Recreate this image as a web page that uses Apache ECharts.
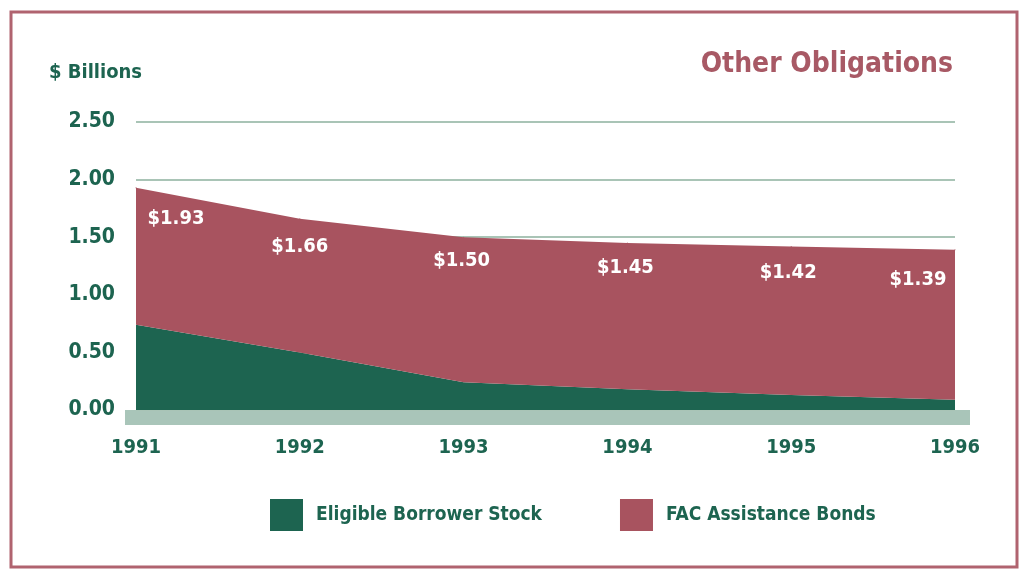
<!DOCTYPE html>
<html>
<head>
<meta charset="utf-8">
<script src="https://cdn.jsdelivr.net/npm/echarts@6/dist/echarts.min.js"></script>
<style>
  html, body { margin: 0; padding: 0; background: #fff; }
  #chart { width: 1020px; height: 573px; }
</style>
</head>
<body>
<div id="chart"></div>
<script>
// data
const years = ['1991', '1992', '1993', '1994', '1995', '1996']
const totals = [1.93, 1.66, 1.50, 1.45, 1.42, 1.39]
const borrowerStock = [0.74, 0.50, 0.24, 0.18, 0.13, 0.09]
const facBonds = totals.map((t, i) => +(t - borrowerStock[i]).toFixed(2))
const yTicks = [0, 0.5, 1.0, 1.5, 2.0, 2.5]

const GREEN = '#1d6450'
const RED = '#a8535f'
const FONT = '"DejaVu Sans Condensed", "Liberation Sans Narrow", sans-serif'

// where each value label sits relative to its point
const labelOffsets = [[40, 15], [0, 12], [-2, 7], [-2, 8], [-3, 10], [-37, 13]]

const chart = echarts.init(document.getElementById('chart'))
chart.setOption({
  animation: false,
  textStyle: { fontFamily: FONT },
  title: [
    {
      text: 'Other Obligations',
      right: 62, top: 46,
      textStyle: { color: '#a85965', fontSize: 28, fontWeight: 'bold', fontFamily: FONT }
    },
    {
      text: '$ Billions',
      left: 44, top: 58,
      textStyle: { color: GREEN, fontSize: 20, fontWeight: 'bold', fontFamily: FONT }
    }
  ],
  legend: {
    left: 265, top: 494,
    itemWidth: 33, itemHeight: 32, itemGap: 78,
    icon: 'rect',
    textStyle: { color: GREEN, fontSize: 19, fontWeight: 'bold', fontFamily: FONT, padding: [0, 0, 0, 8] },
    data: ['Eligible Borrower Stock', 'FAC Assistance Bonds']
  },
  grid: { left: 136, right: 65, top: 122, bottom: 163 },
  xAxis: {
    type: 'category',
    data: years,
    boundaryGap: false,
    axisLine: { show: false },
    axisTick: { show: false },
    axisLabel: { color: GREEN, fontSize: 20, fontWeight: 'bold', fontFamily: FONT, margin: 28 }
  },
  yAxis: {
    type: 'value',
    min: 0, max: 2.5, interval: 0.5,
    axisLabel: {
      color: GREEN, fontSize: 21, fontWeight: 'bold', fontFamily: FONT, margin: 21,
      formatter: v => yTicks.includes(v) ? v.toFixed(2) : ''
    },
    splitLine: { lineStyle: { color: '#a9c4b6', width: 2 } }
  },
  graphic: [
    { type: 'rect', z: 0, shape: { x: 125, y: 410, width: 845, height: 15 }, style: { fill: '#a9c5b9' } },
    { type: 'rect', z: 100, shape: { x: 11, y: 12, width: 1006, height: 555 }, style: { fill: 'none', stroke: '#b0636f', lineWidth: 3 } }
  ],
  series: [
    {
      name: 'Eligible Borrower Stock',
      type: 'line',
      stack: 'total',
      data: borrowerStock,
      showSymbol: false,
      lineStyle: { width: 0 },
      itemStyle: { color: GREEN },
      areaStyle: { color: GREEN, opacity: 1 }
    },
    {
      name: 'FAC Assistance Bonds',
      type: 'line',
      stack: 'total',
      data: facBonds.map((v, i) => ({
        value: v,
        label: { offset: labelOffsets[i] }
      })),
      symbol: 'circle',
      symbolSize: 1,
      showSymbol: true,
      lineStyle: { width: 0 },
      itemStyle: { color: RED },
      areaStyle: { color: RED, opacity: 1 },
      label: {
        show: true,
        position: 'bottom',
        distance: 6,
        color: '#fff',
        fontSize: 20,
        fontWeight: 'bold',
        fontFamily: FONT,
        formatter: p => '$' + totals[p.dataIndex].toFixed(2)
      }
    }
  ]
})
</script>
</body>
</html>
